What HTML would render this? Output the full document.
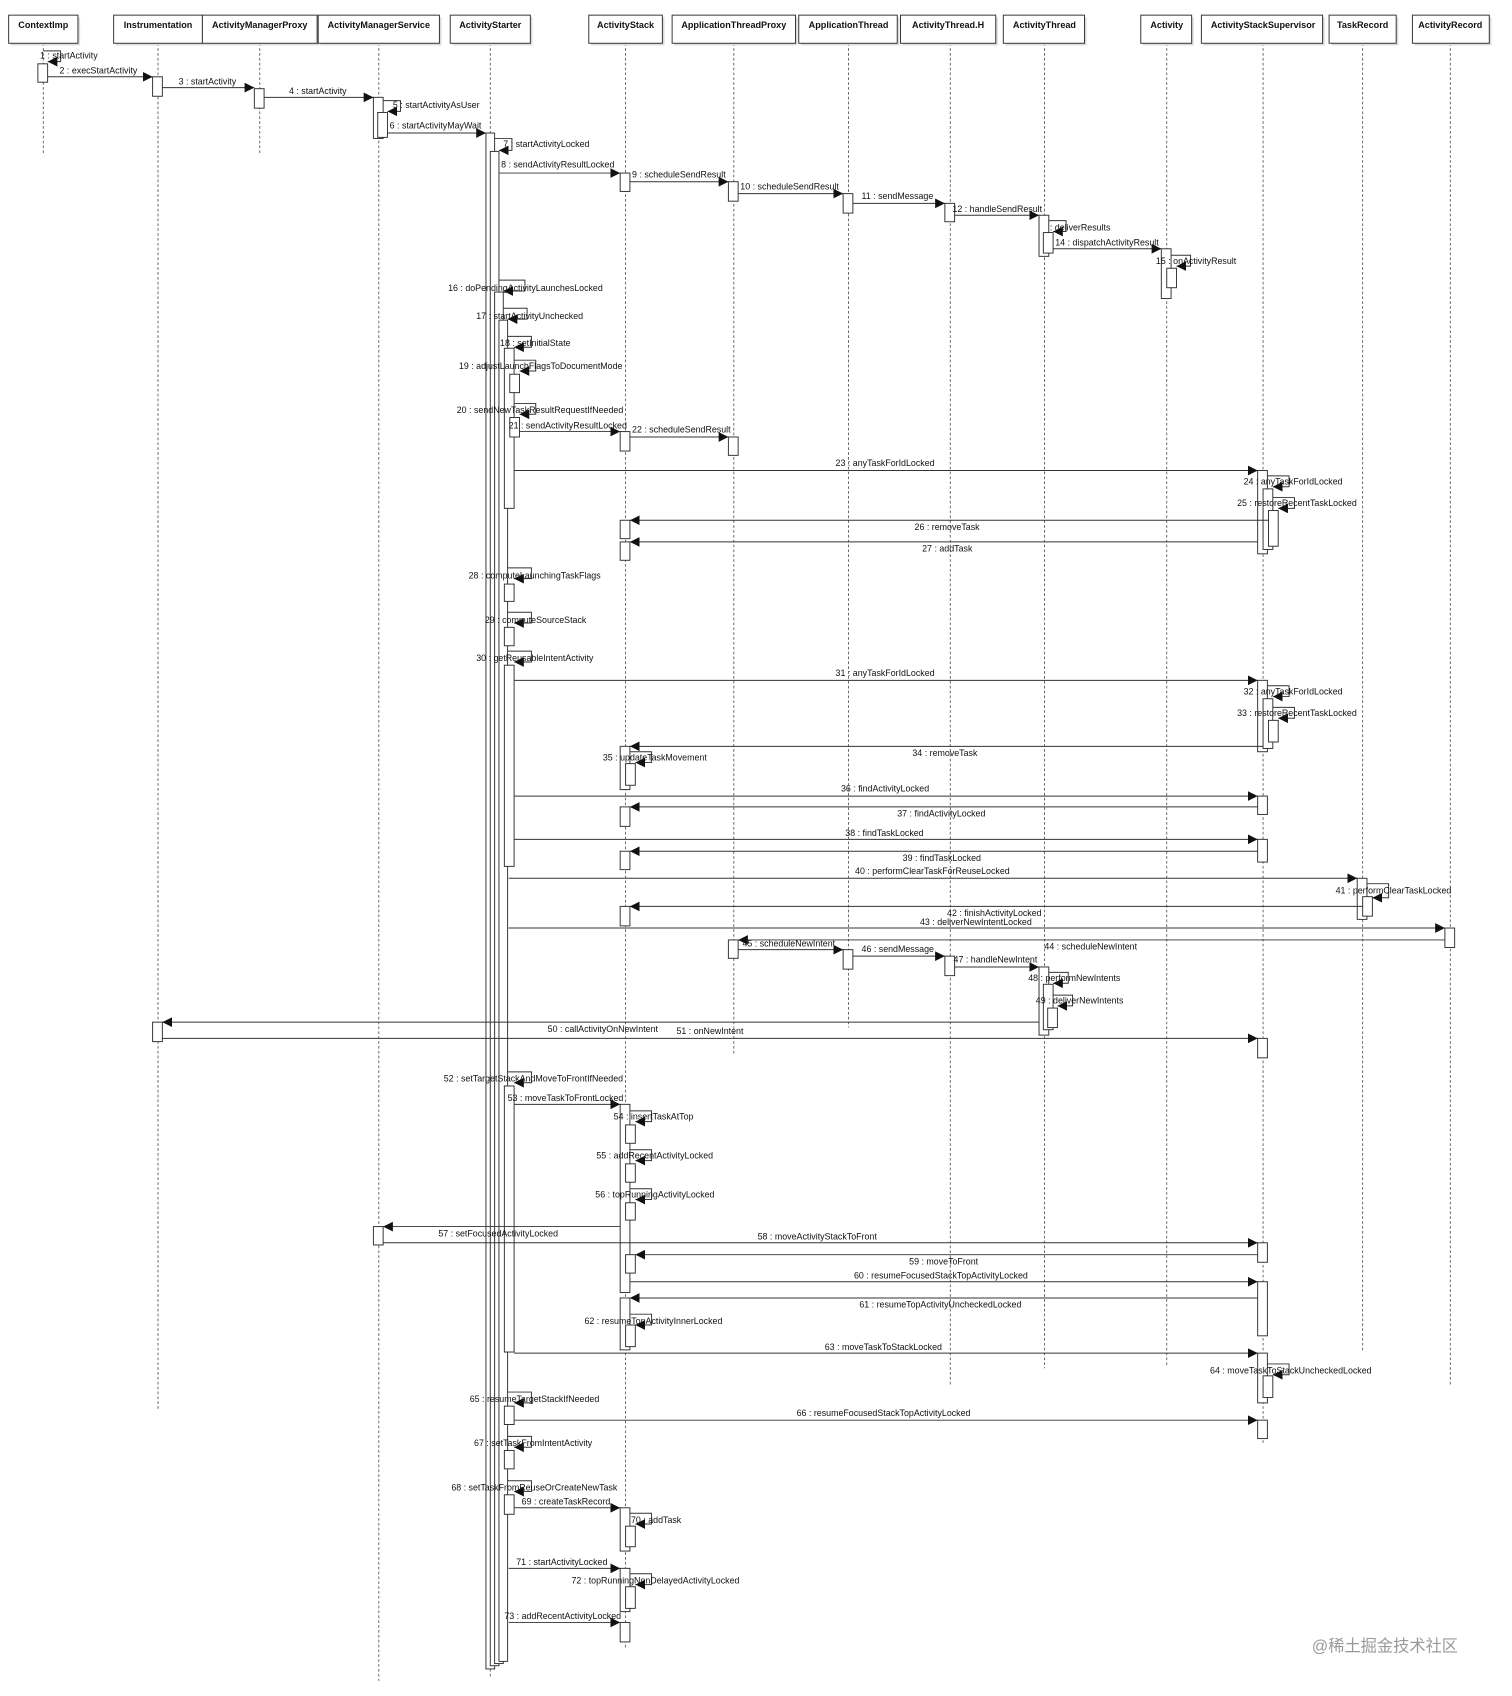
<!DOCTYPE html>
<html><head><meta charset="utf-8"><style>
html,body{margin:0;padding:0;background:#fff;}
svg{display:block;}
text{font-family:"Liberation Sans",sans-serif;font-size:8.2px;fill:#111;}
.h{font-weight:bold;font-size:8.4px;text-anchor:middle;}
.b{fill:#fff;stroke:#333;stroke-width:0.9;}
.ll{stroke:#555;stroke-width:0.8;stroke-dasharray:2.5,2;}
.m{stroke:#333;stroke-width:0.9;fill:none;marker-end:url(#a);}
.s{stroke:#333;stroke-width:0.9;fill:none;marker-end:url(#a);}
</style></head><body>
<svg width="1512" height="1696" viewBox="0 0 1397 1568" preserveAspectRatio="none" xmlns="http://www.w3.org/2000/svg">
<defs><marker id="a" viewBox="0 0 10 10" refX="10" refY="5" markerWidth="9" markerHeight="9" markerUnits="userSpaceOnUse" orient="auto"><path d="M0,0 L10,5 L0,10 z" fill="#111"/></marker></defs>
<rect width="1397" height="1568" fill="#fff"/>
<!-- lifelines -->
<g class="ll">
<line x1="40" y1="40" x2="40" y2="143"/><line x1="146" y1="40" x2="146" y2="1303"/><line x1="240" y1="40" x2="240" y2="143"/><line x1="350" y1="40" x2="350" y2="1554"/><line x1="453" y1="40" x2="453" y2="1550"/><line x1="578" y1="40" x2="578" y2="1525"/><line x1="678" y1="40" x2="678" y2="975"/><line x1="784" y1="40" x2="784" y2="950"/><line x1="878" y1="40" x2="878" y2="1280"/><line x1="965" y1="40" x2="965" y2="1265"/><line x1="1078" y1="40" x2="1078" y2="1262"/><line x1="1167" y1="40" x2="1167" y2="1335"/><line x1="1259" y1="40" x2="1259" y2="1250"/><line x1="1340" y1="40" x2="1340" y2="1280"/>
</g>
<!-- headers -->
<g>
<rect x="10" y="16" width="64" height="26" fill="#ddd"/><rect class="b" x="8" y="14" width="64" height="26"/><text class="h" x="40" y="26">ContextImp</text>
<rect x="107" y="16" width="82" height="26" fill="#ddd"/><rect class="b" x="105" y="14" width="82" height="26"/><text class="h" x="146" y="26">Instrumentation</text>
<rect x="189" y="16" width="106" height="26" fill="#ddd"/><rect class="b" x="187" y="14" width="106" height="26"/><text class="h" x="240" y="26">ActivityManagerProxy</text>
<rect x="296" y="16" width="112" height="26" fill="#ddd"/><rect class="b" x="294" y="14" width="112" height="26"/><text class="h" x="350" y="26">ActivityManagerService</text>
<rect x="418" y="16" width="74" height="26" fill="#ddd"/><rect class="b" x="416" y="14" width="74" height="26"/><text class="h" x="453" y="26">ActivityStarter</text>
<rect x="546" y="16" width="68" height="26" fill="#ddd"/><rect class="b" x="544" y="14" width="68" height="26"/><text class="h" x="578" y="26">ActivityStack</text>
<rect x="623" y="16" width="114" height="26" fill="#ddd"/><rect class="b" x="621" y="14" width="114" height="26"/><text class="h" x="678" y="26">ApplicationThreadProxy</text>
<rect x="740" y="16" width="91" height="26" fill="#ddd"/><rect class="b" x="738" y="14" width="91" height="26"/><text class="h" x="784" y="26">ApplicationThread</text>
<rect x="834" y="16" width="88" height="26" fill="#ddd"/><rect class="b" x="832" y="14" width="88" height="26"/><text class="h" x="876" y="26">ActivityThread.H</text>
<rect x="929" y="16" width="75" height="26" fill="#ddd"/><rect class="b" x="927" y="14" width="75" height="26"/><text class="h" x="965" y="26">ActivityThread</text>
<rect x="1056" y="16" width="47" height="26" fill="#ddd"/><rect class="b" x="1054" y="14" width="47" height="26"/><text class="h" x="1078" y="26">Activity</text>
<rect x="1112" y="16" width="112" height="26" fill="#ddd"/><rect class="b" x="1110" y="14" width="112" height="26"/><text class="h" x="1167" y="26">ActivityStackSupervisor</text>
<rect x="1230" y="16" width="62" height="26" fill="#ddd"/><rect class="b" x="1228" y="14" width="62" height="26"/><text class="h" x="1259" y="26">TaskRecord</text>
<rect x="1307" y="16" width="71" height="26" fill="#ddd"/><rect class="b" x="1305" y="14" width="71" height="26"/><text class="h" x="1340" y="26">ActivityRecord</text>
</g>
<!-- activations -->
<g class="b">
<rect x="35" y="59" width="9" height="17"/>
<rect x="141" y="71" width="9" height="18"/><rect x="235" y="82" width="9" height="18"/>
<rect x="345" y="90" width="9" height="38"/><rect x="349" y="104" width="9" height="23"/>
<rect x="449" y="123" width="8" height="1420"/><rect x="453" y="140" width="8" height="1400"/>
<rect x="457" y="270" width="8" height="1268"/><rect x="461" y="296" width="8" height="1240"/>
<rect x="466" y="322" width="9" height="148"/><rect x="471" y="346" width="9" height="17"/><rect x="471" y="386" width="9" height="18"/>
<rect x="573" y="160" width="9" height="17"/><rect x="673" y="168" width="9" height="18"/><rect x="779" y="179" width="9" height="18"/><rect x="873" y="188" width="9" height="17"/>
<rect x="960" y="199" width="9" height="38"/><rect x="964" y="215" width="9" height="19"/>
<rect x="1073" y="230" width="9" height="46"/><rect x="1078" y="248" width="9" height="18"/>
<rect x="573" y="399" width="9" height="18"/><rect x="673" y="404" width="9" height="17"/>
<rect x="1162" y="435" width="9" height="77"/><rect x="1167" y="452" width="9" height="56"/><rect x="1172" y="472" width="9" height="33"/>
<rect x="573" y="481" width="9" height="17"/><rect x="573" y="501" width="9" height="17"/>
<rect x="466" y="540" width="9" height="16"/><rect x="466" y="580" width="9" height="17"/><rect x="466" y="615" width="9" height="186"/>
<rect x="1162" y="629" width="9" height="66"/><rect x="1167" y="646" width="9" height="46"/><rect x="1172" y="666" width="9" height="20"/>
<rect x="573" y="690" width="9" height="40"/><rect x="578" y="706" width="9" height="20"/>
<rect x="1162" y="736" width="9" height="17"/><rect x="573" y="746" width="9" height="18"/>
<rect x="1162" y="776" width="9" height="21"/><rect x="573" y="787" width="9" height="17"/>
<rect x="1254" y="812" width="9" height="38"/><rect x="1259" y="829" width="9" height="18"/>
<rect x="573" y="838" width="9" height="18"/><rect x="1335" y="858" width="9" height="18"/>
<rect x="673" y="869" width="9" height="17"/><rect x="779" y="878" width="9" height="18"/><rect x="873" y="884" width="9" height="18"/>
<rect x="960" y="894" width="9" height="63"/><rect x="964" y="910" width="9" height="42"/><rect x="968" y="932" width="9" height="18"/>
<rect x="141" y="945" width="9" height="18"/><rect x="1162" y="960" width="9" height="18"/>
<rect x="466" y="1004" width="9" height="246"/>
<rect x="573" y="1021" width="9" height="174"/><rect x="578" y="1040" width="9" height="17"/><rect x="578" y="1076" width="9" height="17"/><rect x="578" y="1112" width="9" height="16"/>
<rect x="345" y="1134" width="9" height="17"/><rect x="1162" y="1149" width="9" height="18"/><rect x="578" y="1160" width="9" height="17"/>
<rect x="1162" y="1185" width="9" height="50"/><rect x="573" y="1200" width="9" height="48"/><rect x="578" y="1225" width="9" height="20"/>
<rect x="1162" y="1251" width="9" height="46"/><rect x="1167" y="1272" width="9" height="20"/>
<rect x="466" y="1300" width="9" height="17"/><rect x="1162" y="1313" width="9" height="17"/>
<rect x="466" y="1341" width="9" height="17"/><rect x="466" y="1382" width="9" height="18"/>
<rect x="573" y="1394" width="9" height="40"/><rect x="578" y="1411" width="9" height="19"/>
<rect x="573" y="1450" width="9" height="40"/><rect x="578" y="1467" width="9" height="20"/>
<rect x="573" y="1500" width="9" height="18"/>
</g>
<!-- messages -->
<g>
<path class="s" d="M40,47 h16 v10 h-12"/><text x="37" y="54">1 : startActivity</text>
<line class="m" x1="44" y1="71" x2="141" y2="71"/><text x="55" y="68">2 : execStartActivity</text>
<line class="m" x1="150" y1="81" x2="235" y2="81"/><text x="165" y="78">3 : startActivity</text>
<line class="m" x1="244" y1="90" x2="345" y2="90"/><text x="267" y="87">4 : startActivity</text>
<path class="s" d="M354,93 h16 v10 h-12"/><text x="363" y="100">5 : startActivityAsUser</text>
<line class="m" x1="358" y1="123" x2="449" y2="123"/><text x="360" y="119">6 : startActivityMayWait</text>
<path class="s" d="M457,128 h16 v11 h-12"/><text x="465" y="136">7 : startActivityLocked</text>
<line class="m" x1="461" y1="160" x2="573" y2="160"/><text x="463" y="155">8 : sendActivityResultLocked</text>
<line class="m" x1="582" y1="168" x2="673" y2="168"/><text x="584" y="164">9 : scheduleSendResult</text>
<line class="m" x1="682" y1="179" x2="779" y2="179"/><text x="684" y="175">10 : scheduleSendResult</text>
<line class="m" x1="788" y1="188" x2="873" y2="188"/><text x="796" y="184">11 : sendMessage</text>
<line class="m" x1="882" y1="199" x2="960" y2="199"/><text x="880" y="196">12 : handleSendResult</text>
<path class="s" d="M969,204 h16 v10 h-12"/><text x="970" y="213">: deliverResults</text>
<line class="m" x1="973" y1="230" x2="1073" y2="230"/><text x="975" y="227">14 : dispatchActivityResult</text>
<path class="s" d="M1082,236 h18 v10 h-13"/><text x="1068" y="244">15 : onActivityResult</text>
<path class="s" d="M461,259 h24 v10 h-20"/><text x="414" y="269">16 : doPendingActivityLaunchesLocked</text>
<path class="s" d="M465,285 h22 v10 h-18"/><text x="440" y="295">17 : startActivityUnchecked</text>
<path class="s" d="M469,311 h22 v10 h-16"/><text x="462" y="320">18 : setInitialState</text>
<path class="s" d="M475,333 h20 v10 h-15"/><text x="424" y="341">19 : adjustLaunchFlagsToDocumentMode</text>
<path class="s" d="M475,373 h20 v10 h-15"/><text x="422" y="382">20 : sendNewTaskResultRequestIfNeeded</text>
<text x="470" y="396">21 : sendActivityResultLocked</text>
<line class="m" x1="480" y1="399" x2="573" y2="399"/>
<line class="m" x1="582" y1="404" x2="673" y2="404"/><text x="584" y="400">22 : scheduleSendResult</text>
<line class="m" x1="475" y1="435" x2="1162" y2="435"/><text x="772" y="431">23 : anyTaskForIdLocked</text>
<path class="s" d="M1171,440 h20 v10 h-15"/><text x="1149" y="448">24 : anyTaskForIdLocked</text>
<path class="s" d="M1176,460 h20 v10 h-15"/><text x="1143" y="468">25 : restoreRecentTaskLocked</text>
<line class="m" x1="1172" y1="481" x2="582" y2="481"/><text x="845" y="490">26 : removeTask</text>
<line class="m" x1="1162" y1="501" x2="582" y2="501"/><text x="852" y="510">27 : addTask</text>
<path class="s" d="M469,525 h22 v10 h-16"/><text x="433" y="535">28 : computeLaunchingTaskFlags</text>
<path class="s" d="M469,566 h22 v10 h-16"/><text x="448" y="576">29 : computeSourceStack</text>
<path class="s" d="M469,602 h22 v10 h-16"/><text x="440" y="611">30 : getReusableIntentActivity</text>
<line class="m" x1="475" y1="629" x2="1162" y2="629"/><text x="772" y="625">31 : anyTaskForIdLocked</text>
<path class="s" d="M1171,634 h20 v10 h-15"/><text x="1149" y="642">32 : anyTaskForIdLocked</text>
<path class="s" d="M1176,654 h20 v10 h-15"/><text x="1143" y="662">33 : restoreRecentTaskLocked</text>
<line class="m" x1="1167" y1="690" x2="582" y2="690"/><text x="843" y="699">34 : removeTask</text>
<path class="s" d="M582,695 h20 v10 h-15"/><text x="557" y="703">35 : updateTaskMovement</text>
<line class="m" x1="475" y1="736" x2="1162" y2="736"/><text x="777" y="732">36 : findActivityLocked</text>
<line class="m" x1="1162" y1="746" x2="582" y2="746"/><text x="829" y="755">37 : findActivityLocked</text>
<line class="m" x1="475" y1="776" x2="1162" y2="776"/><text x="781" y="773">38 : findTaskLocked</text>
<line class="m" x1="1162" y1="787" x2="582" y2="787"/><text x="834" y="796">39 : findTaskLocked</text>
<line class="m" x1="470" y1="812" x2="1254" y2="812"/><text x="790" y="808">40 : performClearTaskForReuseLocked</text>
<path class="s" d="M1263,817 h20 v13 h-15"/><text x="1234" y="826">41 : performClearTaskLocked</text>
<line class="m" x1="1259" y1="838" x2="582" y2="838"/><text x="875" y="847">42 : finishActivityLocked</text>
<line class="m" x1="470" y1="858" x2="1335" y2="858"/><text x="850" y="855">43 : deliverNewIntentLocked</text>
<line class="m" x1="1335" y1="869" x2="682" y2="869"/><text x="965" y="878">44 : scheduleNewIntent</text>
<line class="m" x1="682" y1="878" x2="779" y2="878"/><text x="686" y="875">45 : scheduleNewIntent</text>
<line class="m" x1="788" y1="884" x2="873" y2="884"/><text x="796" y="880">46 : sendMessage</text>
<line class="m" x1="882" y1="894" x2="960" y2="894"/><text x="881" y="890">47 : handleNewIntent</text>
<path class="s" d="M969,899 h18 v10 h-14"/><text x="950" y="907">48 : performNewIntents</text>
<path class="s" d="M973,920 h18 v10 h-14"/><text x="957" y="928">49 : deliverNewIntents</text>
<line class="m" x1="960" y1="945" x2="150" y2="945"/><text x="506" y="954">50 : callActivityOnNewIntent</text>
<line class="m" x1="150" y1="960" x2="1162" y2="960"/><text x="625" y="956">51 : onNewIntent</text>
<path class="s" d="M469,991 h22 v10 h-16"/><text x="410" y="1000">52 : setTargetStackAndMoveToFrontIfNeeded</text>
<line class="m" x1="475" y1="1021" x2="573" y2="1021"/><text x="469" y="1018">53 : moveTaskToFrontLocked</text>
<path class="s" d="M582,1027 h20 v10 h-15"/><text x="567" y="1035">54 : insertTaskAtTop</text>
<path class="s" d="M582,1063 h20 v10 h-15"/><text x="551" y="1071">55 : addRecentActivityLocked</text>
<path class="s" d="M582,1099 h20 v10 h-15"/><text x="550" y="1107">56 : topRunningActivityLocked</text>
<line class="m" x1="573" y1="1134" x2="354" y2="1134"/><text x="405" y="1143">57 : setFocusedActivityLocked</text>
<line class="m" x1="354" y1="1149" x2="1162" y2="1149"/><text x="700" y="1146">58 : moveActivityStackToFront</text>
<line class="m" x1="1162" y1="1160" x2="587" y2="1160"/><text x="840" y="1169">59 : moveToFront</text>
<line class="m" x1="582" y1="1185" x2="1162" y2="1185"/><text x="789" y="1182">60 : resumeFocusedStackTopActivityLocked</text>
<line class="m" x1="1162" y1="1200" x2="582" y2="1200"/><text x="794" y="1209">61 : resumeTopActivityUncheckedLocked</text>
<path class="s" d="M582,1215 h20 v10 h-15"/><text x="540" y="1224">62 : resumeTopActivityInnerLocked</text>
<line class="m" x1="475" y1="1251" x2="1162" y2="1251"/><text x="762" y="1248">63 : moveTaskToStackLocked</text>
<path class="s" d="M1171,1261 h20 v10 h-15"/><text x="1118" y="1270">64 : moveTaskToStackUncheckedLocked</text>
<path class="s" d="M469,1287 h22 v10 h-16"/><text x="434" y="1296">65 : resumeTargetStackIfNeeded</text>
<line class="m" x1="475" y1="1313" x2="1162" y2="1313"/><text x="736" y="1309">66 : resumeFocusedStackTopActivityLocked</text>
<path class="s" d="M469,1328 h22 v10 h-16"/><text x="438" y="1337">67 : setTaskFromIntentActivity</text>
<path class="s" d="M469,1369 h22 v10 h-16"/><text x="417" y="1378">68 : setTaskFromReuseOrCreateNewTask</text>
<line class="m" x1="475" y1="1394" x2="573" y2="1394"/><text x="482" y="1391">69 : createTaskRecord</text>
<path class="s" d="M582,1399 h20 v10 h-15"/><text x="583" y="1408">70 : addTask</text>
<line class="m" x1="470" y1="1450" x2="573" y2="1450"/><text x="477" y="1447">71 : startActivityLocked</text>
<path class="s" d="M582,1455 h20 v10 h-15"/><text x="528" y="1464">72 : topRunningNonDelayedActivityLocked</text>
<line class="m" x1="470" y1="1500" x2="573" y2="1500"/><text x="466" y="1497">73 : addRecentActivityLocked</text>
</g>
<text x="1212" y="1527" style="font-family:'Liberation Sans','Noto Sans CJK SC',sans-serif;font-size:15px;fill:#999;">@稀土掘金技术社区</text>
</svg>
</body></html>
